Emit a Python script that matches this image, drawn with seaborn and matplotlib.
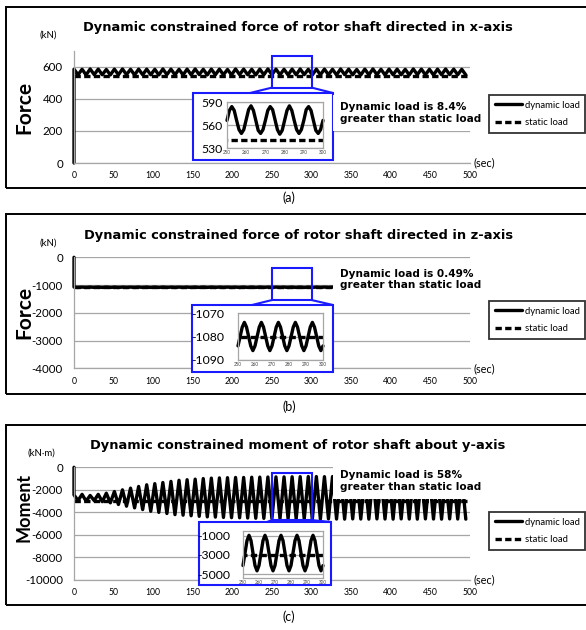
import numpy as np
import matplotlib
matplotlib.use("Agg")
import matplotlib.pyplot as plt
import seaborn as sns
from matplotlib.patches import Rectangle, ConnectionPatch
from matplotlib.lines import Line2D

# ── data ────────────────────────────────────────────────────────────────────
# extrema of the dynamic load, one peak and one trough per cycle (~10.2 s)
T0, HALF = 0.0, 5.1

peak_a = [585, 584, 586, 585, 583, 585, 586,
          584, 585, 585, 584, 586, 585, 584,
          585, 586, 584, 585, 585, 583, 586,
          585, 584, 585, 586, 585, 584, 585,
          586, 584, 585, 585, 584, 586, 585,
          583, 585, 586, 584, 585, 585, 584,
          586, 585, 584, 585, 586, 585, 584]
trough_a = [550, 549, 551, 550, 549, 550, 551,
            549, 550, 550, 549, 551, 550, 549,
            550, 551, 549, 550, 550, 549, 551,
            550, 549, 550, 551, 550, 549, 550,
            551, 549, 550, 550, 549, 551, 550,
            549, 550, 551, 549, 550, 550, 549,
            551, 550, 549, 550, 551, 550, 549]

peak_b = [-1074, -1074, -1073, -1074, -1074, -1075, -1074,
          -1074, -1073, -1074, -1074, -1074, -1075, -1074,
          -1074, -1074, -1073, -1074, -1074, -1074, -1075,
          -1074, -1074, -1073, -1074, -1074, -1074, -1074,
          -1075, -1074, -1074, -1073, -1074, -1074, -1074,
          -1074, -1075, -1074, -1074, -1073, -1074, -1074,
          -1074, -1074, -1075, -1074, -1074, -1073, -1074]
trough_b = [-1086, -1086, -1085, -1086, -1086, -1087, -1086,
            -1086, -1085, -1086, -1086, -1086, -1087, -1086,
            -1086, -1086, -1085, -1086, -1086, -1086, -1087,
            -1086, -1086, -1085, -1086, -1086, -1086, -1086,
            -1087, -1086, -1086, -1085, -1086, -1086, -1086,
            -1086, -1087, -1086, -1086, -1085, -1086, -1086,
            -1086, -1086, -1087, -1086, -1086, -1085, -1086]

peak_c = [-2450, -2400, -2500, -2400, -2300, -2150, -2000,
          -1850, -1700, -1550, -1450, -1350, -1250, -1150,
          -1100, -1050, -1000, -960, -940, -920, -900,
          -900, -880, -870, -860, -850, -850, -840,
          -830, -820, -820, -830, -820, -840, -830,
          -820, -830, -840, -830, -820, -830, -840,
          -830, -820, -830, -840, -830, -820, -830]
trough_c = [-2950, -3000, -2950, -3050, -3150, -3300, -3450,
            -3600, -3750, -3900, -4000, -4100, -4200, -4250,
            -4300, -4350, -4400, -4420, -4450, -4470, -4480,
            -4500, -4520, -4530, -4550, -4560, -4570, -4580,
            -4590, -4600, -4600, -4580, -4590, -4600, -4580,
            -4590, -4600, -4580, -4590, -4600, -4580, -4590,
            -4600, -4580, -4590, -4600, -4580, -4590, -4600]

static_t = [0, 500]
static_a = [540, 540]
static_b = [-1080, -1080]
static_c = [-3000, -3000]

# zoomed window 250-300 s, sampled every 1.25 s
ZOOM_T0, ZOOM_STEP = 250, 1.25
zoom_a = [566, 579, 584, 579, 566, 554, 549, 554,
          567, 580, 585, 579, 566, 553, 549, 554,
          566, 579, 584, 580, 567, 554, 548, 553,
          566, 579, 585, 579, 566, 554, 549, 554,
          566, 580, 584, 579, 566, 553, 549, 554, 566]
zoom_b = [-1084, -1080, -1076, -1074, -1076, -1080, -1084, -1086,
          -1084, -1080, -1076, -1074, -1076, -1080, -1084, -1086,
          -1084, -1080, -1076, -1074, -1076, -1080, -1084, -1086,
          -1084, -1080, -1076, -1074, -1076, -1080, -1084, -1086,
          -1084, -1080, -1076, -1074, -1076, -1080, -1084, -1086, -1084]
zoom_c = [-4100, -2800, -1500, -950, -1500, -2800, -4100, -4650,
          -4100, -2800, -1500, -950, -1500, -2800, -4100, -4650,
          -4100, -2800, -1500, -950, -1500, -2800, -4100, -4650,
          -4100, -2800, -1500, -950, -1500, -2800, -4100, -4650,
          -4100, -2800, -1500, -950, -1500, -2800, -4100, -4650, -4100]

titles = ["Dynamic constrained force of rotor shaft directed in x-axis",
          "Dynamic constrained force of rotor shaft directed in z-axis",
          "Dynamic constrained moment of rotor shaft about y-axis"]
units = ["(kN)", "(kN)", "(kN\u00b7m)"]
ylabels = ["Force", "Force", "Moment"]
notes = ["Dynamic load is 8.4%\ngreater than static load",
         "Dynamic load is 0.49%\ngreater than static load",
         "Dynamic load is 58%\ngreater than static load"]
panel_tags = ["(a)", "(b)", "(c)"]

# ── style ───────────────────────────────────────────────────────────────────
W, H = 586, 630
BLUE = "#1a1aff"
GRID = "#a6a6a6"
WIDE = ["DejaVu Sans"]
LATO = ["Lato", "DejaVu Sans"]

sns.set_theme(style="white")
plt.rcParams["font.family"] = LATO
plt.rcParams["axes.unicode_minus"] = False
for key in ("text.color", "axes.labelcolor", "xtick.color", "ytick.color"):
    plt.rcParams[key] = "black"

fig = plt.figure(figsize=(W / 100, H / 100), dpi=100)


def px_axes(l, t, r, b, z=0):
    return fig.add_axes([l / W, 1 - b / H, (r - l) / W, (b - t) / H], zorder=z)


def fig_xy(x, y):
    return (x / W, 1 - y / H)


def dynamic_series(peaks, troughs):
    vals = [v for pair in zip(peaks, troughs) for v in pair]
    t = np.concatenate([[0.0], T0 + HALF * np.arange(len(vals))])
    return t, np.concatenate([[0.0], vals])


def draw_lines(ax, t, y, st, sy, lw=2.4):
    sns.lineplot(x=t, y=y, ax=ax, color="black", lw=lw, sort=False,
                 estimator=None, clip_on=False)
    sns.lineplot(x=st, y=sy, ax=ax, color="black", lw=lw, sort=False,
                 estimator=None)
    ax.lines[-1].set_dashes((1.9, 1.0))


panels = [
    dict(peaks=peak_a, troughs=trough_a, static=static_a, zoom=zoom_a,
         frame=(7.3, 188), axes=(50.7, 163), ylim=(0, 700),
         yticks=[0, 200, 400, 600], rect=(470, 670),
         box=(193, 93, 333, 160), inner=(227, 102, 323, 148), left_to=250,
         zylim=(530, 590), zticks=[530, 560, 590], zpad=3,
         title_y=27, unit=(48.5, 35), ylab_y=107, note_y=113,
         leg_y=95, tag_y=198, ylab_fs=15),
    dict(peaks=peak_b, troughs=trough_b, static=static_b, zoom=zoom_b,
         frame=(214, 394), axes=(257.3, 368.3), ylim=(-4000, 0),
         yticks=[-4000, -3000, -2000, -1000, 0], rect=(-1540, -390),
         box=(192, 305, 333, 372), inner=(238, 313, 323, 360), left_to=252,
         zylim=(-1090, -1070), zticks=[-1090, -1080, -1070], zpad=10,
         title_y=235, unit=(48, 243), ylab_y=312, note_y=279.5,
         leg_y=301, tag_y=407, ylab_fs=15),
    dict(peaks=peak_c, troughs=trough_c, static=static_c, zoom=zoom_c,
         frame=(425, 605), axes=(467.3, 580), ylim=(-10000, 0),
         yticks=[-10000, -8000, -6000, -4000, -2000, 0], rect=(-4680, -500),
         box=(199, 522, 331, 585), inner=(243, 531, 323, 578), left_to=267,
         zylim=(-5400, -500), zticks=[-5000, -3000, -1000], zpad=9.4,
         title_y=446, unit=(41, 453), ylab_y=507, note_y=481,
         leg_y=512, tag_y=617, ylab_fs=13),
]

zoom_t = ZOOM_T0 + ZOOM_STEP * np.arange(len(zoom_a))

for i, p in enumerate(panels):
    # outer frame
    ft, fb = p["frame"]
    fig.add_artist(Rectangle(fig_xy(5.5, fb), (600 - 5.5) / W, (fb - ft) / H,
                             transform=fig.transFigure, fill=False,
                             ec="black", lw=1.4, zorder=0))

    # ── main axes ──
    at, ab = p["axes"]
    ax = px_axes(74, at, 470, ab)
    t, y = dynamic_series(p["peaks"], p["troughs"])
    draw_lines(ax, t, y, static_t, p["static"])
    ax.set_xlim(0, 500)
    ax.set_ylim(*p["ylim"])
    ax.set_xticks(range(0, 501, 50))
    ax.set_yticks(p["yticks"])
    ax.set_xlabel("")
    ax.set_ylabel("")
    ax.grid(axis="y", color=GRID, lw=0.9)
    for s in ("top", "right"):
        ax.spines[s].set_visible(False)
    for s in ("left", "bottom"):
        ax.spines[s].set_color(GRID)
        ax.spines[s].set_linewidth(0.9)
    ax.tick_params(axis="y", length=0, labelsize=8.3, pad=8)
    ax.tick_params(axis="x", length=0, labelsize=6.2, pad=6)
    ax.patch.set_alpha(0)

    # zoom rectangle
    lo, hi = p["rect"]
    ax.add_patch(Rectangle((250, lo), 50, hi - lo, fill=False, ec=BLUE,
                           lw=1.5, clip_on=False, zorder=6))

    # ── inset ──
    bl, bt, br, bb = p["box"]
    fig.add_artist(Rectangle(fig_xy(bl, bb), (br - bl) / W, (bb - bt) / H,
                             transform=fig.transFigure, fc="white",
                             ec=BLUE, lw=1.5, zorder=1))
    for xa, xb in ((250, p["left_to"]), (300, br)):
        fig.add_artist(ConnectionPatch(xyA=(xa, lo), coordsA=ax.transData,
                                       xyB=fig_xy(xb, bt),
                                       coordsB=fig.transFigure,
                                       color=BLUE, lw=1.5, zorder=1))

    il, it, ir, ib = p["inner"]
    ax2 = px_axes(il, it, ir, ib, z=2)
    draw_lines(ax2, zoom_t, p["zoom"], static_t, p["static"])
    ax2.set_xlim(250, 300)
    ax2.set_ylim(*p["zylim"])
    ax2.set_xticks(range(250, 301, 10))
    ax2.set_yticks(p["zticks"])
    ax2.set_xlabel("")
    ax2.set_ylabel("")
    ax2.grid(axis="y", color=GRID, lw=0.9)
    for s in ax2.spines.values():
        s.set_color(GRID)
        s.set_linewidth(0.9)
    ax2.tick_params(axis="y", length=0, labelsize=8.8, pad=p["zpad"])
    ax2.tick_params(axis="x", length=0, labelsize=3.3, pad=1.5,
                    labelcolor="#444444")

    # ── texts ──
    fig.text(*fig_xy(298, p["title_y"]), titles[i], ha="center", va="center",
             fontsize=9.4, fontweight="bold", family=WIDE)
    fig.text(*fig_xy(*p["unit"]), units[i], ha="center", va="center",
             fontsize=7)
    fig.text(*fig_xy(24, p["ylab_y"]), ylabels[i], ha="center", va="center",
             rotation=90, fontsize=p["ylab_fs"], fontweight="bold",
             family=LATO)
    # note sits in a white text box that hides the curves behind it
    fig.text(*fig_xy(340, p["note_y"]), notes[i], ha="left", va="center",
             fontsize=7.6, fontweight="bold", family=WIDE, linespacing=1.2,
             bbox=dict(fc="white", ec="none", pad=5))
    fig.text(*fig_xy(473, ab), "(sec)", ha="left", va="center", fontsize=7.8)
    fig.text(*fig_xy(289, p["tag_y"]), panel_tags[i], ha="center",
             va="center", fontsize=9)

    handles = [Line2D([], [], color="black", lw=2.4),
               Line2D([], [], color="black", lw=2.4, dashes=(1.9, 1.0))]
    leg = fig.legend(handles, ["dynamic load", "static load"],
                     loc="upper left", bbox_to_anchor=fig_xy(489, p["leg_y"]),
                     frameon=True, fancybox=False, edgecolor="black",
                     fontsize=6.8, handlelength=2.9, handletextpad=0.3,
                     borderpad=0.6, labelspacing=0.9, borderaxespad=0)
    leg.get_frame().set_linewidth(1.3)

fig.savefig("out.png", dpi=100, facecolor="white")
